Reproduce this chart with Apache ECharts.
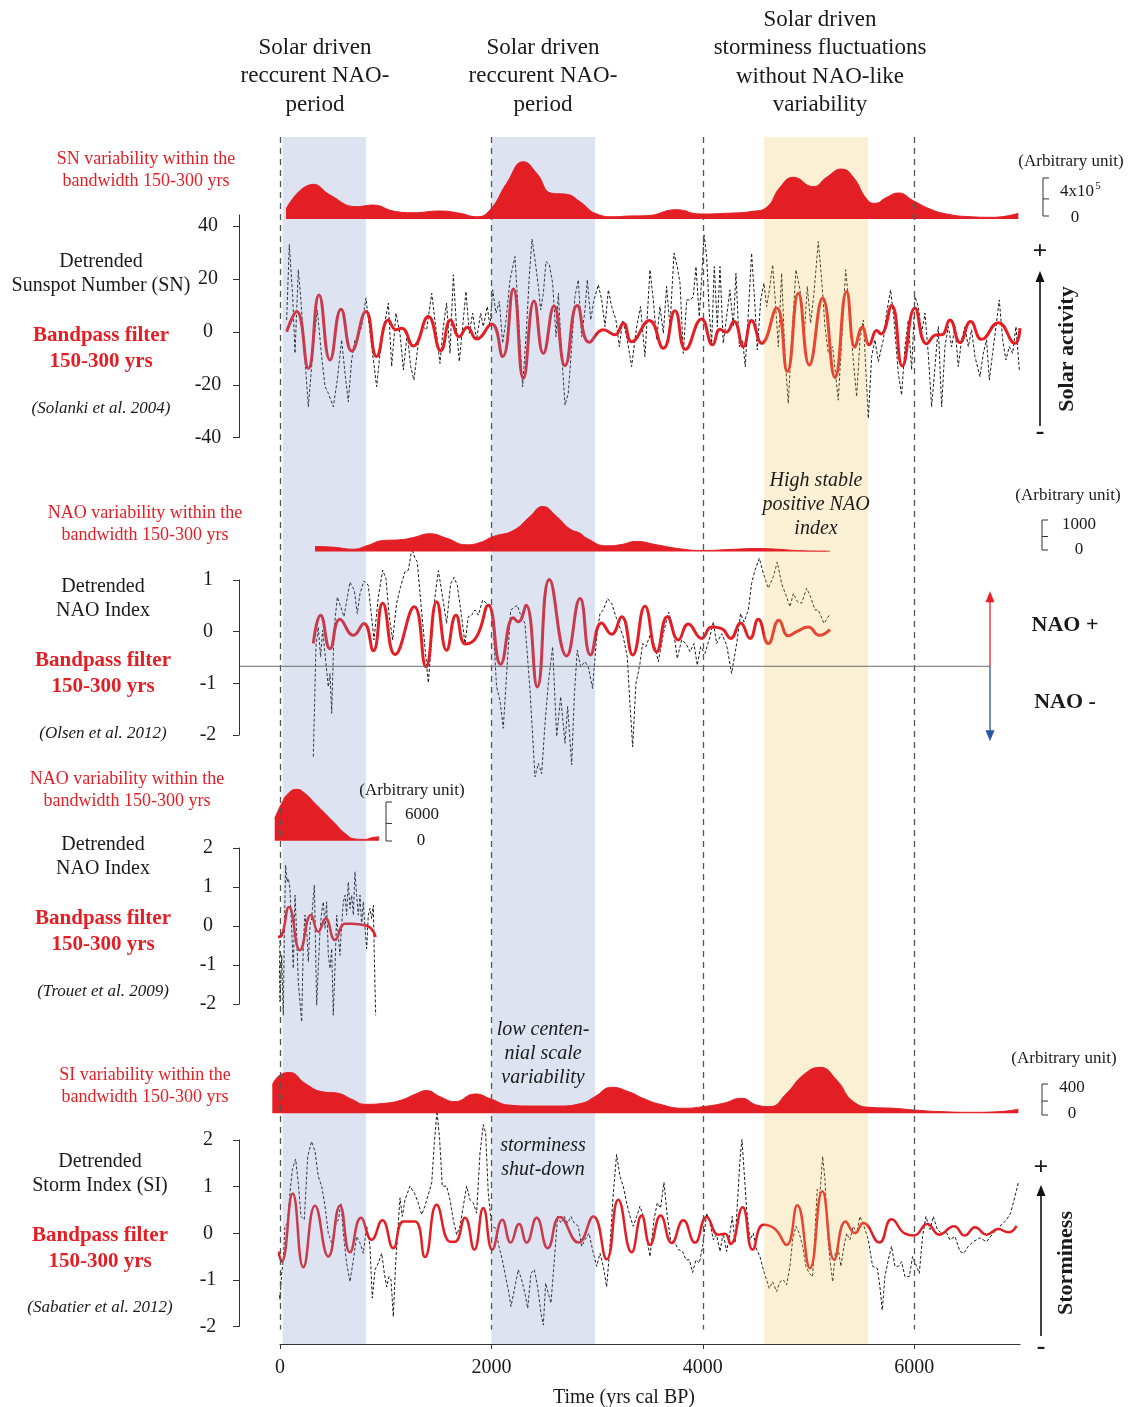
<!DOCTYPE html>
<html><head><meta charset="utf-8">
<script src="https://cdn.jsdelivr.net/npm/echarts@6/dist/echarts.min.js"></script>
<style>html,body{margin:0;padding:0;background:#fff}#c{width:1130px;height:1407px}</style>
</head><body><div id="c"></div>
<script>
// ---------------- DATA ----------------
const xTicks = [0, 2000, 4000, 6000];
const snTicks = [-40, -20, 0, 20, 40];
const naoOlsenTicks = [-2, -1, 0, 1];
const naoTrouetTicks = [-2, -1, 0, 1, 2];
const siTicks = [-2, -1, 0, 1, 2];
const refYears = [0, 2000, 4000, 6000];
const blueBands = [[25, 813], [2000, 2980]];
const yellowBands = [[4580, 5563]];
const naoRefLevel = -0.67;

// SN variability within 150-300 yr band (x10^5, arbitrary unit)
const snVariability = [[57,1.05],[315,3.65],[473,2.53],[725,1.30],[883,1.47],[1072,0.84],[1261,0.66],[1513,0.84],[1703,0.60],[1860,0.24],[1986,0.95],[2144,3.76],[2302,6.03],[2428,4.81],[2570,2.71],[2712,2.60],[2838,1.82],[2995,0.53],[3153,0.24],[3311,0.32],[3469,0.35],[3752,0.98],[3973,0.53],[4225,0.60],[4477,0.81],[4604,1.23],[4730,3.34],[4856,4.39],[5045,3.40],[5171,4.39],[5313,5.26],[5423,4.39],[5549,2.11],[5628,1.65],[5739,2.28],[5849,2.74],[5991,1.93],[6149,1.05],[6306,0.53],[6527,0.24],[6747,0.18],[6984,0.60]];

const snDetrended = [[63,4.5],[88,33.0],[120,13.4],[142,-8.1],[173,23.5],[195,13.4],[227,-5.6],[268,-28.3],[315,-5.6],[353,8.3],[394,-9.3],[426,-20.7],[457,-23.2],[504,-28.3],[542,-18.2],[583,-3.0],[615,-15.7],[646,-26.4],[678,-10.6],[709,-3.0],[741,-1.8],[772,2.0],[813,12.8],[845,2.0],[876,-8.1],[914,-20.7],[946,-8.1],[984,2.0],[1025,10.9],[1056,-13.1],[1097,7.1],[1135,-0.5],[1167,-14.4],[1204,-0.5],[1236,-13.1],[1267,-18.2],[1308,-4.3],[1349,2.0],[1387,0.8],[1435,14.6],[1476,0.8],[1513,-11.9],[1545,2.0],[1576,10.9],[1608,-8.1],[1640,21.6],[1671,0.8],[1696,-11.2],[1728,2.0],[1759,15.3],[1791,-0.5],[1822,7.1],[1860,-3.0],[1898,7.1],[1923,2.0],[1961,9.6],[1986,2.0],[2012,15.9],[2043,7.1],[2075,11.5],[2106,-4.3],[2138,4.5],[2176,19.7],[2223,28.5],[2254,7.1],[2295,-20.7],[2333,2.0],[2358,21.0],[2384,35.1],[2412,27.3],[2444,17.2],[2466,8.3],[2491,14.6],[2516,26.6],[2548,25.4],[2579,18.4],[2611,-1.8],[2633,14.6],[2664,-8.1],[2696,-27.7],[2727,-23.2],[2759,-5.6],[2790,13.4],[2822,19.7],[2853,-1.8],[2885,8.3],[2907,19.7],[2939,4.5],[2970,12.1],[3011,17.8],[3043,12.1],[3074,2.0],[3106,15.9],[3137,9.6],[3178,4.5],[3210,-5.6],[3241,4.5],[3279,-1.8],[3311,-9.3],[3326,-13.1],[3374,2.0],[3411,9.6],[3452,-9.3],[3500,23.5],[3531,12.1],[3563,-3.0],[3594,9.6],[3626,-0.5],[3657,17.2],[3689,2.0],[3727,29.8],[3758,24.7],[3784,18.4],[3815,-8.1],[3847,12.1],[3884,12.1],[3910,13.4],[3935,24.7],[3966,5.8],[3988,19.7],[4011,36.7],[4036,28.5],[4061,7.1],[4083,-4.3],[4108,24.7],[4137,2.0],[4162,24.7],[4193,-4.3],[4225,5.8],[4256,15.9],[4288,2.0],[4313,22.2],[4345,-5.6],[4376,-3.0],[4401,-13.1],[4430,7.1],[4461,29.8],[4493,9.6],[4515,-6.8],[4547,12.1],[4578,18.4],[4603,9.6],[4629,15.9],[4660,25.4],[4682,13.4],[4714,-5.6],[4745,22.2],[4777,-9.3],[4808,-27.0],[4840,-3.0],[4881,23.5],[4919,15.9],[4956,-3.0],[4988,17.2],[5019,3.3],[5051,14.6],[5092,34.2],[5124,19.7],[5155,2.0],[5187,-8.1],[5228,-5.6],[5281,-25.8],[5313,-3.0],[5351,23.5],[5385,9.6],[5423,-10.6],[5455,-24.5],[5486,-3.0],[5518,4.5],[5565,-32.7],[5597,-9.3],[5628,-3.0],[5660,-11.2],[5707,-3.0],[5738,7.1],[5776,15.9],[5808,4.5],[5849,-15.7],[5880,-23.9],[5912,-5.6],[5943,4.5],[5975,-14.4],[6006,13.4],[6038,9.6],[6069,-0.5],[6101,7.1],[6132,-8.1],[6164,-28.3],[6196,-13.1],[6227,2.0],[6259,-28.3],[6290,-5.6],[6322,2.0],[6353,-5.6],[6385,2.0],[6416,-13.1],[6448,-3.0],[6479,2.0],[6511,-5.6],[6542,0.8],[6574,-9.3],[6621,-16.9],[6653,-8.1],[6684,-3.0],[6710,-18.2],[6741,-8.1],[6773,2.0],[6804,12.1],[6836,-3.0],[6867,-10.6],[6899,-5.6],[6930,-8.1],[6962,2.0],[6994,-14.4]];

const snBandpass = [[63,0.1],[158,7.7],[268,-13.8],[369,14.0],[473,-10.6],[577,8.6],[678,-7.2],[813,7.7],[914,-9.3],[1025,4.5],[1097,0.8],[1151,1.4],[1261,-5.3],[1403,5.8],[1520,-7.1],[1614,4.5],[1696,-1.8],[1772,1.8],[1860,-2.7],[2002,3.0],[2106,-9.3],[2207,16.2],[2302,-17.6],[2403,11.7],[2491,-8.1],[2592,9.8],[2696,-12.8],[2812,10.0],[2926,-3.9],[3058,0.8],[3169,-1.1],[3248,3.3],[3326,-3.7],[3493,4.3],[3626,-6.2],[3736,8.0],[3837,-6.6],[3988,4.9],[4093,-4.9],[4162,1.0],[4219,-0.1],[4294,3.9],[4383,-5.6],[4461,4.3],[4556,-4.3],[4698,9.0],[4799,-15.0],[4903,14.6],[5007,-12.5],[5133,12.8],[5250,-17.2],[5360,15.3],[5439,-5.8],[5508,1.8],[5574,-4.9],[5644,0.5],[5685,-0.8],[5786,10.0],[5887,-12.9],[6006,9.0],[6117,-4.5],[6211,-1.1],[6259,-1.1],[6337,4.5],[6432,-4.0],[6533,3.9],[6637,-2.8],[6795,3.5],[6952,-4.3],[7000,1.4]];

// NAO (Olsen et al. 2012)
const naoOlsenVariability = [[331,167],[504,143],[694,77],[820,190],[977,367],[1135,390],[1261,467],[1419,590],[1576,443],[1766,223],[1892,300],[2018,500],[2207,700],[2365,1167],[2484,1500],[2617,1167],[2743,750],[2838,610],[2901,443],[3090,190],[3216,223],[3374,333],[3563,223],[3784,90],[4004,33],[4256,67],[4509,100],[4698,77],[4950,23],[5202,10]];

const naoOlsenDetrended = [[315,-2.42],[340,-0.29],[362,0.09],[384,-0.49],[403,0.03],[435,-0.62],[457,-1.07],[473,-0.81],[489,-1.58],[511,0.03],[542,0.67],[574,0.48],[605,0.29],[662,0.96],[703,0.80],[731,0.35],[757,0.74],[794,0.98],[835,0.90],[889,-0.16],[930,0.67],[971,1.19],[1002,1.03],[1034,0.29],[1066,-0.16],[1103,0.55],[1141,0.87],[1182,1.16],[1214,1.19],[1248,1.61],[1277,1.42],[1299,1.35],[1330,0.61],[1362,-0.10],[1403,-0.99],[1434,-0.16],[1466,0.67],[1498,1.18],[1538,0.67],[1576,0.16],[1614,0.93],[1646,1.05],[1677,0.90],[1718,0.29],[1750,-0.23],[1781,0.29],[1813,0.32],[1844,0.42],[1876,0.32],[1917,0.61],[1955,0.55],[1993,0.51],[2018,0.03],[2049,-1.07],[2081,-1.33],[2112,-1.87],[2144,-0.81],[2182,0.42],[2223,0.48],[2245,0.51],[2276,0.32],[2317,0.16],[2365,-1.13],[2412,-2.81],[2444,-2.55],[2475,-2.75],[2507,-1.78],[2538,-1.00],[2579,-0.29],[2617,-2.03],[2655,-1.26],[2696,-2.16],[2721,-1.45],[2759,-2.58],[2785,-1.20],[2812,-0.36],[2844,-0.68],[2885,-0.58],[2916,-0.68],[2957,-1.10],[2995,-0.10],[3027,0.35],[3058,0.42],[3099,0.64],[3137,0.55],[3184,0.25],[3247,-0.10],[3285,-0.49],[3310,-1.39],[3336,-2.23],[3367,-1.00],[3405,-0.62],[3430,-0.23],[3462,-0.29],[3500,-0.07],[3538,-0.23],[3579,-0.58],[3626,-0.04],[3676,0.38],[3720,0.06],[3758,-0.52],[3799,-0.16],[3840,-0.23],[3878,-0.39],[3916,-0.23],[3947,-0.65],[3979,-0.29],[4020,-0.42],[4067,-0.10],[4099,0.19],[4130,-0.23],[4178,-0.04],[4225,-0.26],[4272,-0.81],[4320,-0.23],[4357,0.35],[4389,0.19],[4430,0.42],[4461,0.93],[4493,1.19],[4534,1.42],[4572,1.13],[4619,0.84],[4666,1.06],[4704,1.35],[4745,0.93],[4786,0.71],[4824,0.48],[4856,0.74],[4894,0.58],[4934,0.55],[4982,0.84],[5020,0.67],[5060,0.42],[5092,0.42],[5146,0.16],[5196,0.32]];

const naoOlsenBandpass = [[315,-0.23],[384,0.32],[473,-0.33],[567,0.24],[694,-0.07],[794,0.16],[883,-0.37],[971,0.55],[1088,-0.44],[1270,0.48],[1381,-0.68],[1482,0.58],[1576,-0.36],[1665,0.32],[1756,-0.24],[1860,-0.10],[1970,0.51],[2087,-0.63],[2207,0.27],[2254,0.19],[2327,0.51],[2434,-1.07],[2548,1.01],[2711,-0.47],[2838,0.64],[2938,-0.45],[3042,0.17],[3137,-0.05],[3232,0.29],[3336,-0.45],[3452,0.49],[3563,-0.39],[3664,0.29],[3768,-0.16],[3862,0.15],[3988,-0.13],[4083,0.09],[4178,0.06],[4263,-0.13],[4357,0.17],[4446,-0.13],[4524,0.24],[4619,-0.23],[4720,0.22],[4808,-0.08],[4887,0.00],[4997,0.09],[5101,-0.07],[5202,0.04]];

// NAO (Trouet et al. 2009)
const naoTrouetVariability = [[-50,3430],[16,5740],[79,7280],[158,7900],[236,7280],[331,5740],[426,4200],[520,2660],[615,1120],[709,260],[804,200],[867,460],[936,620]];

const naoTrouetDetrended = [[-10,-0.24],[0,-1.94],[16,-0.75],[31,-2.29],[41,-0.24],[53,1.56],[66,1.13],[79,1.22],[94,0.96],[110,-0.06],[126,-1.09],[142,0.79],[158,-0.24],[173,-1.43],[189,-1.94],[205,-2.46],[221,-0.41],[236,0.28],[252,-0.06],[268,-0.92],[284,0.02],[299,0.19],[325,1.05],[347,-2.03],[362,-1.09],[378,-0.15],[394,0.36],[410,0.62],[426,-0.06],[441,0.62],[457,-0.75],[473,-1.09],[489,-0.58],[504,-2.29],[520,-1.09],[536,0.28],[552,-0.24],[567,-0.75],[583,0.02],[599,0.62],[615,0.79],[630,0.28],[646,1.13],[662,0.45],[678,0.79],[694,0.28],[709,1.39],[725,0.79],[741,0.28],[757,0.79],[772,0.02],[788,0.62],[804,-0.06],[820,-0.58],[835,0.28],[851,0.45],[867,0.19],[883,0.53],[892,-0.75],[905,-2.29]];

const naoTrouetBandpass = [[-22,-0.28],[16,-0.24],[85,0.49],[189,-0.62],[293,0.28],[362,-0.15],[432,0.19],[520,-0.36],[615,0.06],[678,0.06],[804,0.02],[861,-0.06],[905,-0.28]];

// Storm Index (Sabatier et al. 2012)
const siVariability = [[-73,365],[0,494],[94,525],[236,387],[394,280],[552,258],[678,181],[804,116],[993,129],[1151,172],[1277,245],[1387,293],[1513,215],[1655,151],[1844,249],[2002,181],[2160,107],[2381,94],[2633,94],[2853,129],[2979,215],[3137,335],[3295,280],[3440,190],[3594,116],[3815,65],[4004,86],[4193,129],[4367,194],[4509,107],[4635,86],[4792,258],[4950,494],[5108,593],[5265,430],[5423,151],[5612,74],[5801,65],[5990,43],[6243,22],[6558,13],[6810,22],[6984,52]];

const siDetrended = [[-16,-1.22],[0,-1.43],[16,-0.86],[31,-0.57],[47,0.15],[72,0.22],[94,0.86],[117,1.37],[148,1.59],[173,1.08],[199,0.36],[230,0.29],[262,1.65],[299,1.97],[331,1.76],[362,1.22],[394,1.01],[426,0.58],[457,0.00],[489,-0.21],[520,0.15],[552,0.29],[577,0.65],[599,0.00],[630,-0.64],[662,-1.04],[694,-0.57],[725,-0.07],[757,-0.21],[788,-0.43],[820,0.15],[851,-0.28],[873,-1.39],[899,-0.78],[930,-0.64],[962,-0.43],[987,-0.86],[1009,-1.15],[1031,-0.93],[1050,-1.00],[1072,-1.79],[1094,-0.64],[1119,0.22],[1135,0.76],[1157,0.36],[1182,0.72],[1230,1.01],[1271,0.86],[1308,0.65],[1340,0.40],[1371,0.58],[1403,0.83],[1435,1.08],[1460,1.94],[1485,2.62],[1510,2.01],[1535,1.01],[1576,1.01],[1608,0.72],[1639,0.29],[1671,-0.03],[1703,0.15],[1734,0.58],[1766,1.01],[1797,0.72],[1829,0.65],[1860,0.43],[1892,1.72],[1923,2.33],[1945,2.15],[1970,0.86],[2002,0.15],[2040,0.11],[2071,-0.28],[2103,-0.57],[2128,-0.86],[2160,-1.22],[2185,-1.57],[2216,-1.22],[2254,-0.78],[2286,-1.00],[2317,-1.29],[2343,-1.61],[2374,-0.86],[2406,-0.78],[2437,-1.15],[2469,-1.72],[2491,-1.97],[2513,-1.07],[2538,-1.29],[2563,-1.50],[2595,-0.57],[2626,0.36],[2658,0.22],[2689,0.36],[2721,0.22],[2752,0.36],[2784,0.22],[2822,0.15],[2853,-0.28],[2885,-0.14],[2923,0.00],[2964,-0.43],[2995,-0.71],[3027,-0.43],[3058,-0.71],[3090,-1.15],[3121,-0.28],[3153,0.86],[3184,1.69],[3216,1.22],[3247,1.01],[3279,0.65],[3311,0.36],[3342,0.15],[3374,0.36],[3405,0.58],[3437,0.36],[3468,-0.07],[3500,-0.50],[3537,0.29],[3569,0.65],[3600,0.54],[3632,1.09],[3664,0.36],[3695,-0.14],[3736,-0.21],[3768,-0.35],[3809,-0.39],[3840,-0.57],[3872,-0.57],[3903,-0.84],[3935,-0.57],[3966,-0.64],[3998,-0.28],[4036,0.43],[4067,0.22],[4099,-0.14],[4130,-0.03],[4162,-0.39],[4193,0.00],[4225,-0.39],[4256,0.00],[4278,0.36],[4304,-0.21],[4329,0.72],[4351,1.58],[4370,2.01],[4389,1.37],[4414,0.51],[4446,-0.14],[4477,0.00],[4509,-0.35],[4540,-0.50],[4572,-0.78],[4597,-0.96],[4628,-1.18],[4660,-1.04],[4698,-1.25],[4729,-1.04],[4761,-1.00],[4792,-1.11],[4824,-0.71],[4849,-0.14],[4881,0.15],[4912,0.00],[4944,-0.28],[4975,-0.71],[5007,-0.86],[5038,-0.93],[5060,0.00],[5082,0.94],[5108,0.86],[5133,1.65],[5155,1.15],[5180,0.00],[5202,-0.57],[5228,-1.04],[5253,-0.43],[5281,-0.35],[5306,-0.71],[5335,-0.28],[5360,0.00],[5391,-0.14],[5423,0.15],[5455,0.00],[5486,0.36],[5524,0.15],[5565,-0.14],[5606,-0.71],[5650,-0.75],[5675,-1.15],[5697,-1.65],[5722,-0.93],[5754,-0.57],[5785,-0.28],[5817,-0.71],[5849,-0.71],[5880,-0.61],[5912,-0.93],[5953,-0.93],[5984,-0.50],[6016,-0.68],[6047,-0.86],[6079,-0.07],[6110,0.36],[6148,0.08],[6180,0.36],[6218,0.08],[6259,0.00],[6299,0.04],[6337,-0.14],[6385,-0.07],[6432,-0.39],[6469,-0.43],[6511,-0.28],[6558,-0.18],[6621,-0.10],[6684,-0.18],[6747,0.00],[6810,0.15],[6873,0.29],[6911,0.43],[6952,0.79],[6984,1.08]];

const siBandpass = [[-16,-0.39],[16,-0.61],[120,0.85],[221,-0.73],[331,0.59],[457,-0.50],[567,0.59],[662,-0.41],[766,0.33],[867,-0.14],[968,0.28],[1072,-0.32],[1167,0.25],[1277,0.25],[1371,-0.51],[1482,0.61],[1608,-0.18],[1655,-0.18],[1750,0.33],[1838,-0.35],[1923,0.54],[2008,-0.35],[2103,0.29],[2182,-0.20],[2261,0.20],[2333,-0.20],[2428,0.33],[2532,-0.32],[2648,0.35],[2822,-0.20],[2964,0.36],[3090,-0.56],[3200,0.72],[3326,-0.41],[3421,0.38],[3500,-0.25],[3600,0.38],[3705,-0.21],[3815,0.28],[3925,-0.20],[4036,0.35],[4146,-0.03],[4209,-0.01],[4263,-0.23],[4376,0.56],[4471,-0.35],[4572,0.18],[4682,0.09],[4792,-0.25],[4893,0.60],[5013,-0.75],[5130,0.90],[5243,-0.57],[5350,0.25],[5439,0.00],[5518,0.22],[5669,-0.20],[5785,0.30],[5912,-0.01],[5997,-0.05],[6123,0.20],[6236,-0.03],[6375,0.15],[6479,-0.05],[6574,0.13],[6684,-0.03],[6794,0.09],[6889,0.02],[6968,0.16]];

// ---------------- STYLE / LAYOUT ----------------
const FONT = '"Liberation Serif","Times New Roman",serif';
const RED = '#e41e25';
const INK = '#1a1a1a';
const PX_PER_YEAR = 740 / 7000;
const panelGrids = [
  {top:150, height:69},      // 0 SN variability
  {top:215, height:222.7},   // 1 SN detrended
  {top:500, height:51.5},    // 2 NAO Olsen variability
  {top:580, height:155},     // 3 NAO Olsen detrended
  {top:785, height:55.7},    // 4 Trouet variability
  {top:848, height:156},     // 5 Trouet detrended
  {top:1063, height:50.3},   // 6 SI variability
  {top:1140, height:186.5},  // 7 SI detrended
  {top:137, height:1207}     // 8 overlay / time axis
];
// panels whose record starts slightly before 0 get an extended axis (same scale)
const xStart = {4: -100, 6: -100};
const areaMax = {0: 69*4/38, 2: 51.5*1000/30, 4: 55.7*6000/39, 6: 50.3*400/31};

const chart = echarts.init(document.getElementById('c'), null, {renderer:'canvas'});

const grid = panelGrids.map((g, i) => {
  const x0 = xStart[i] || 0;
  return {left: 280 + x0*PX_PER_YEAR, width: (7000 - x0)*PX_PER_YEAR, top:g.top, height:g.height,
    containLabel:false, outerBoundsMode:'none'};
});
const xAxis = panelGrids.map((g, i) => {
  const x0 = xStart[i] || 0;
  if (i !== 8) return {type:'value', gridIndex:i, min:x0, max:7000, show:false};
  return {type:'value', gridIndex:i, min:0, max:7000, show:true, position:'bottom',
    axisLine:{show:true, lineStyle:{color:'#333', width:1}},
    axisTick:{show:true, length:5, customValues:xTicks, lineStyle:{color:'#333'}},
    axisLabel:{customValues:xTicks, formatter: v => String(v), fontFamily:FONT, fontSize:20, color:INK, margin:14},
    splitLine:{show:false},
    name:'Time (yrs cal BP)', nameLocation:'middle', nameGap:44,
    nameTextStyle:{fontFamily:FONT, fontSize:20, color:INK, padding:[0, 52, 0, 0]}};
});
function detAxis(i, min, max, ticks) {
  return {type:'value', gridIndex:i, min, max, position:'left', offset:41,
    axisLine:{show:true, onZero:false, lineStyle:{color:'#333', width:1}},
    axisTick:{show:true, length:6, customValues:ticks, lineStyle:{color:'#333'}},
    axisLabel:{customValues:ticks, fontFamily:FONT, fontSize:20, color:INK, margin:31, align:'center'},
    splitLine:{show:false}};
}
const yAxis = [
  {type:'value', gridIndex:0, min:0, max:areaMax[0], show:false},
  detAxis(1, -40, 44.2, snTicks),
  {type:'value', gridIndex:2, min:0, max:areaMax[2], show:false},
  detAxis(3, -2, 1, naoOlsenTicks),
  {type:'value', gridIndex:4, min:0, max:areaMax[4], show:false},
  detAxis(5, -2, 2, naoTrouetTicks),
  {type:'value', gridIndex:6, min:0, max:areaMax[6], show:false},
  detAxis(7, -2, 2, siTicks),
  {type:'value', gridIndex:8, min:0, max:1, show:false}
];

function areaS(i, data) {
  return {type:'line', xAxisIndex:i, yAxisIndex:i, data, smooth:0.5, symbol:'none', clip:false, z:4,
    lineStyle:{color:RED, width:1}, areaStyle:{color:RED, opacity:1}, itemStyle:{color:RED}, silent:true};
}
function dashS(i, data) {
  return {type:'line', xAxisIndex:i, yAxisIndex:i, data, smooth:false, symbol:'none', clip:false, z:2,
    lineStyle:{color:'#1b1b1b', width:1, type:[3,2]}, silent:true};
}
function bandS(i, data, w) {
  return {type:'line', xAxisIndex:i, yAxisIndex:i, data, smooth:0.5, symbol:'none', clip:false, z:2,
    lineStyle:{color:RED, width:w}, silent:true};
}
const BLUE = 'rgba(119,143,195,0.25)';
const YELLOW = 'rgba(239,195,83,0.25)';
const bandAreas = blueBands.map(b => [{xAxis:b[0], yAxis:0, itemStyle:{color:BLUE}}, {xAxis:b[1], yAxis:1}])
  .concat(yellowBands.map(b => [{xAxis:b[0], yAxis:0, itemStyle:{color:YELLOW}}, {xAxis:b[1], yAxis:1}]));

const series = [
  areaS(0, snVariability), dashS(1, snDetrended), bandS(1, snBandpass, 3),
  areaS(2, naoOlsenVariability), dashS(3, naoOlsenDetrended), bandS(3, naoOlsenBandpass, 3),
  areaS(4, naoTrouetVariability), dashS(5, naoTrouetDetrended), bandS(5, naoTrouetBandpass, 2.5),
  areaS(6, siVariability), dashS(7, siDetrended), bandS(7, siBandpass, 2.5),
  {type:'line', xAxisIndex:8, yAxisIndex:8, data:[], z:3, silent:true,
    markArea:{silent:true, z:3, data:bandAreas}},
  {type:'line', xAxisIndex:8, yAxisIndex:8, data:[], z:5, silent:true,
    markLine:{silent:true, z:6, symbol:['none','none'], label:{show:false},
      lineStyle:{type:[6,5], color:'#555', width:1.3},
      data: refYears.map(y => [{coord:[y, 1]}, {coord:[y, 0.012]}])}}
];

chart.setOption({animation:false, backgroundColor:'#fff', grid, xAxis, yAxis, series});

// ---------------- ANNOTATIONS ----------------
function T(text, x, y, font, fill, extra) {
  return Object.assign({type:'text', x, y, z:20, silent:true,
    style:{text, x:0, y:0, font, fill: fill || INK, align:'center', verticalAlign:'middle',
      textAlign:'center', textVerticalAlign:'middle'}}, extra || {});
}
const F = (s, w, st) => `${st||'normal'} ${w||'normal'} ${s}px ${FONT}`;
const g = [];
// headers
[[315, ['Solar driven','reccurent NAO-','period'], 48], [543, ['Solar driven','reccurent NAO-','period'], 48],
 [820, ['Solar driven','storminess fluctuations','without NAO-like','variability'], 20]].forEach(([cx, lines, y0]) => {
  lines.forEach((l, k) => g.push(T(l, cx, y0 + k*28.3, F(23))));
});
// left labels
function leftBlock(varLines, varX, varY, detLines, cx, detY, bpY, cite, citeY) {
  varLines.forEach((l, k) => g.push(T(l, varX, varY + k*22, F(18), RED)));
  detLines.forEach((l, k) => g.push(T(l, cx, detY + k*24, F(20))));
  g.push(T('Bandpass filter', cx, bpY, F(21, 'bold'), RED));
  g.push(T('150-300 yrs', cx, bpY + 26, F(21, 'bold'), RED));
  g.push(T(cite, cx, citeY, F(17, 'normal', 'italic')));
}
leftBlock(['SN variability within the','bandwidth 150-300 yrs'], 146, 159, ['Detrended','Sunspot Number (SN)'], 101, 262, 336, '(Solanki et al. 2004)', 409);
leftBlock(['NAO variability within the','bandwidth 150-300 yrs'], 145, 513, ['Detrended','NAO Index'], 103, 587, 661, '(Olsen et al. 2012)', 734);
leftBlock(['NAO variability within the','bandwidth 150-300 yrs'], 127, 779, ['Detrended','NAO Index'], 103, 845, 919, '(Trouet et al. 2009)', 992);
leftBlock(['SI variability within the','bandwidth 150-300 yrs'], 145, 1075, ['Detrended','Storm Index (SI)'], 100, 1162, 1236, '(Sabatier et al. 2012)', 1308);
// italic annotations
['High stable','positive NAO','index'].forEach((l,k) => g.push(T(l, 816, 481 + k*24, F(20,'normal','italic'))));
['low centen-','nial scale','variability'].forEach((l,k) => g.push(T(l, 543, 1030 + k*24, F(20,'normal','italic'))));
['storminess','shut-down'].forEach((l,k) => g.push(T(l, 543, 1146 + k*24, F(20,'normal','italic'))));

// scale brackets
function bracket(x, yTop, yBot, label, lx, ly, zx, zy, unitX, unitY) {
  const ym = yTop + 0.55*(yBot - yTop);
  const ls = {stroke:'#333', lineWidth:1};
  g.push({type:'line', z:20, silent:true, shape:{x1:x, y1:yTop, x2:x, y2:yBot}, style:ls});
  [yTop, ym, yBot].forEach(yy => g.push({type:'line', z:20, silent:true, shape:{x1:x, y1:yy, x2:x+6, y2:yy}, style:ls}));
  if (label) g.push(T(label, lx, ly, F(17)));
  g.push(T('0', zx, zy, F(17)));
  g.push(T('(Arbitrary unit)', unitX, unitY, F(17)));
}
bracket(1043, 178, 216, null, 0, 0, 1075, 218, 1071, 162);
g.push(T('4x10', 1077, 192, F(17)));
g.push(T('5', 1098, 186, F(11)));
bracket(1042, 520, 550, '1000', 1079, 525, 1079, 550, 1068, 496);
bracket(386, 802, 841, '6000', 422, 815, 421, 841, 412, 791);
bracket(1042, 1084, 1115, '400', 1072, 1088, 1072, 1114, 1064, 1059);

// arrows
function arrow(x, yFrom, yTo, color, w) {
  const dir = yTo < yFrom ? -1 : 1;
  g.push({type:'line', z:20, silent:true, shape:{x1:x, y1:yFrom, x2:x, y2:yTo - dir*8}, style:{stroke:color, lineWidth:w||1.5}});
  g.push({type:'polygon', z:20, silent:true, shape:{points:[[x, yTo], [x-4.5, yTo - dir*11], [x+4.5, yTo - dir*11]]}, style:{fill:color}});
}
arrow(1040, 426, 271, '#111', 1.6);
g.push(T('+', 1040, 252, F(26,'bold')));
g.push(T('-', 1040, 432, F(26,'bold')));
g.push(T('Solar activity', 1067, 349, F(22,'bold'), INK, {rotation:Math.PI/2}));
arrow(1041, 1336, 1185, '#111', 1.6);
g.push(T('+', 1041, 1168, F(26,'bold')));
g.push(T('-', 1041, 1347, F(26,'bold')));
g.push(T('Storminess', 1066, 1263, F(22,'bold'), INK, {rotation:Math.PI/2}));

// NAO reference line and arrows
const yRef = chart.convertToPixel({yAxisIndex:3}, naoRefLevel);
g.push({type:'line', z:6, silent:true, shape:{x1:240, y1:yRef, x2:990, y2:yRef}, style:{stroke:'#6b6b6b', lineWidth:1}});
arrow(990, yRef, yRef - 75, '#e8202a', 1.3);
arrow(990, yRef, yRef + 75, '#2b55a5', 1.3);
g.push(T('NAO +', 1065, 625, F(22,'bold')));
g.push(T('NAO -', 1065, 702, F(22,'bold')));

chart.setOption({graphic: g});
</script>
</body></html>
